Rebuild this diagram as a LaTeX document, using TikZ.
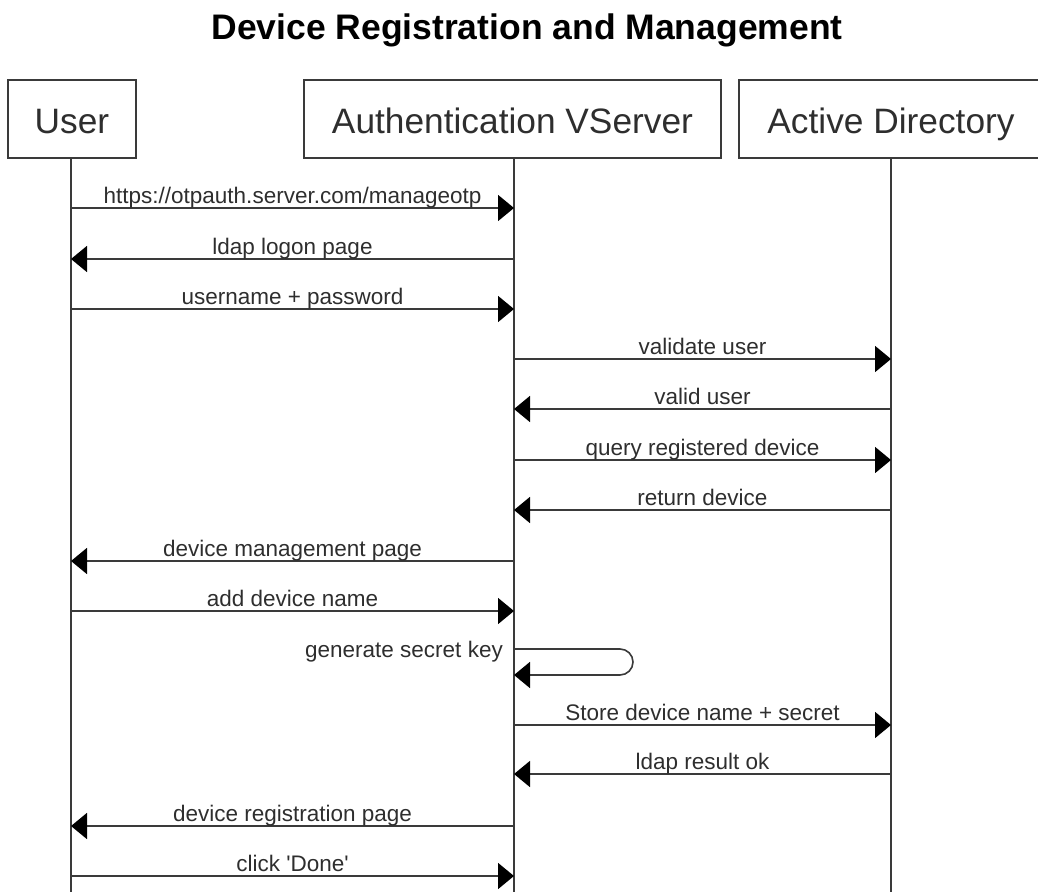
\documentclass[tikz,border=0pt]{standalone}
\usepackage{fontspec}
\setmainfont{Liberation Sans}
\usetikzlibrary{arrows.meta}
\definecolor{ink}{HTML}{2E2E2E}
\definecolor{linec}{HTML}{3A3A3A}
\tikzset{
  actor/.style={draw=linec, line width=1.6pt, rectangle, inner sep=0pt, text=ink,
    font=\fontsize{35.3}{40}\selectfont, text height=31pt, text depth=3pt, minimum height=78pt},
  life/.style={draw=linec, line width=1.6pt},
  msg/.style={draw=linec, line width=1.6pt, -{Triangle[length=16pt,width=26pt,color=black]}},
  lbl/.style={text=ink, font=\fontsize{22.5}{26}\selectfont, inner sep=0pt, anchor=base},
}
\begin{document}
\begin{tikzpicture}[x=1pt,y=-1pt]
\useasboundingbox (0,0) rectangle (1038,891);
\node[font=\bfseries\fontsize{35.5}{40}\selectfont, text=black, anchor=base, inner sep=0pt] (title) at (527,39.5) {Device Registration and Management};
\node[actor, minimum width=128pt] (user) at (72,119) {User};
\node[actor, minimum width=417pt] (auth) at (512.5,119) {Authentication VServer};
\begin{scope}
\clip (0,0) rectangle (1038,891);
\node[actor, minimum width=304pt] (ad) at (891,119) {Active Directory};
\end{scope}
\coordinate (ul) at (71,158);
\coordinate (al) at (514,158);
\coordinate (dl) at (891,158);
\coordinate (bot) at (0,895);
\draw[life] (ul) -- (ul |- bot);
\draw[life] (al) -- (al |- bot);
\draw[life] (dl) -- (dl |- bot);
% rows
\foreach \n/\y in {1/208,2/259,3/309,4/359,5/409,6/460,7/510,8/561,9/611,10/649,11/675,12/725,13/774,14/826,15/876}
  \coordinate (r\n) at (0,\y);
\newcommand{\msgline}[4]{%
  \draw[msg] (#1 |- #3) -- (#2 |- #3);
  \path (#1 |- #3) -- (#2 |- #3) node[lbl, midway, yshift=4.5pt] {#4};
}
\msgline{ul}{al}{r1}{https://otpauth.server.com/manageotp}
\msgline{al}{ul}{r2}{ldap logon page}
\msgline{ul}{al}{r3}{username + password}
\msgline{al}{dl}{r4}{validate user}
\msgline{dl}{al}{r5}{valid user}
\msgline{al}{dl}{r6}{query registered device}
\msgline{dl}{al}{r7}{return device}
\msgline{al}{ul}{r8}{device management page}
\msgline{ul}{al}{r9}{add device name}
% self message
\coordinate (lp) at (633,0);
\draw[msg, rounded corners=13pt] (al |- r10) -- (lp |- r10) -- (lp |- r11) -- (al |- r11);
\node[lbl, anchor=base east] (gsk) at ([xshift=-11pt,yshift=-8pt]al |- r10) {generate secret key};
\msgline{al}{dl}{r12}{Store device name + secret}
\msgline{dl}{al}{r13}{ldap result ok}
\msgline{al}{ul}{r14}{device registration page}
\msgline{ul}{al}{r15}{click \textquotesingle Done\textquotesingle}
\end{tikzpicture}
\end{document}
